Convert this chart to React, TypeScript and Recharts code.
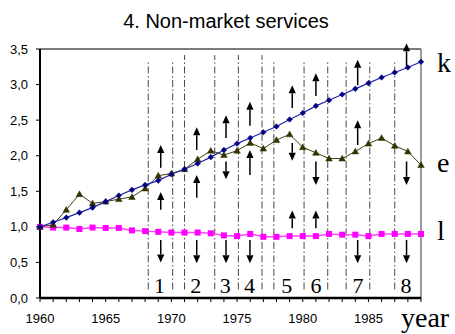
import React from "react"
import {
  LineChart,
  Line,
  XAxis,
  YAxis,
  ReferenceLine,
  ReferenceDot,
  LabelList,
} from "recharts"

const years = [
  1960, 1961, 1962, 1963, 1964, 1965, 1966, 1967, 1968, 1969,
  1970, 1971, 1972, 1973, 1974, 1975, 1976, 1977, 1978, 1979,
  1980, 1981, 1982, 1983, 1984, 1985, 1986, 1987, 1988, 1989,
]

const kValues = [
  1.0, 1.065, 1.13, 1.2, 1.27, 1.355, 1.44, 1.52, 1.59, 1.65,
  1.74, 1.81, 1.89, 1.98, 2.08, 2.17, 2.25, 2.33, 2.41, 2.51,
  2.6, 2.7, 2.78, 2.86, 2.94, 3.02, 3.1, 3.17, 3.24, 3.32,
]

const eValues = [
  1.0, 1.03, 1.24, 1.46, 1.33, 1.355, 1.39, 1.42, 1.54, 1.72,
  1.75, 1.81, 1.95, 2.07, 2.01, 2.07, 2.18, 2.1, 2.22, 2.3,
  2.12, 2.04, 1.96, 1.96, 2.06, 2.17, 2.25, 2.14, 2.06, 1.87,
]

const lValues = [
  1.0, 0.99, 0.99, 0.97, 0.99, 0.985, 0.985, 0.95, 0.94, 0.93,
  0.92, 0.92, 0.92, 0.91, 0.88, 0.87, 0.9, 0.86, 0.86, 0.87,
  0.87, 0.87, 0.9, 0.89, 0.89, 0.87, 0.9, 0.9, 0.9, 0.9,
]

const yTicks = [0, 0.5, 1, 1.5, 2, 2.5, 3, 3.5]

// dash-dot period boundaries (year) and how high each one reaches
const boundaryYears = [
  1968.24, 1970.1, 1971.0, 1973.3, 1975.1, 1976.9,
  1977.8, 1980.1, 1981.9, 1983.3, 1985.1, 1987.0,
]
const boundaryTops = [
  3.345, 3.345, 3.415, 3.415, 3.415, 3.415,
  3.345, 3.345, 3.345, 3.345, 3.345, 3.345,
]
const boundaryBottom = 0.12

const periodNames = ["1", "2", "3", "4", "5", "6", "7", "8"]
const periodYears = [1969.1, 1971.85, 1974.1, 1975.95, 1978.78, 1981.0, 1984.2, 1987.85]

// [year, from, to] — up arrows when to > from
const arrows: [number, number, number][] = [
  [1969.19, 1.83, 2.15], [1969.19, 1.24, 1.49], [1969.19, 0.815, 0.5],
  [1971.93, 2.08, 2.4], [1971.93, 1.41, 1.73], [1971.93, 0.815, 0.49],
  [1974.16, 2.25, 2.57], [1974.16, 1.92, 1.67], [1974.16, 0.815, 0.49],
  [1975.98, 2.42, 2.76], [1975.98, 1.73, 2.08], [1975.98, 0.815, 0.49],
  [1979.2, 2.67, 2.99], [1979.2, 2.18, 1.93], [1979.2, 0.98, 1.23],
  [1981.0, 2.84, 3.16], [1981.0, 1.92, 1.59], [1981.0, 0.98, 1.23],
  [1984.18, 2.99, 3.35], [1984.18, 2.15, 2.5], [1984.18, 0.815, 0.49],
  [1987.9, 3.26, 3.58], [1987.9, 1.92, 1.59], [1987.9, 0.815, 0.49],
]

const rows = years.map((year, i) => ({
  year,
  k: kValues[i],
  e: eValues[i],
  l: lValues[i],
}))

const sans = "'Liberation Sans', Arial, sans-serif"
const serif = "'Liberation Serif', 'Times New Roman', serif"

const Diamond = (props: any) => {
  const { cx, cy } = props
  if (cx == null || cy == null) return null
  const r = 2.8
  return (
    <polygon
      points={`${cx},${cy - r} ${cx + r},${cy} ${cx},${cy + r} ${cx - r},${cy}`}
      fill="#000080"
      stroke="#000080"
      strokeWidth={0.5}
    />
  )
}

const Triangle = (props: any) => {
  const { cx, cy } = props
  if (cx == null || cy == null) return null
  return (
    <polygon
      points={`${cx},${cy - 3.3} ${cx + 3.3},${cy + 2.5} ${cx - 3.3},${cy + 2.5}`}
      fill="#333300"
      stroke="#333300"
      strokeWidth={0.5}
    />
  )
}

const Square = (props: any) => {
  const { cx, cy } = props
  if (cx == null || cy == null) return null
  return <rect x={cx - 3} y={cy - 3} width={6} height={6} fill="#ff00ff" />
}

const Arrow = (props: any) => {
  const { x1, y1, x2, y2 } = props
  if (x1 == null || y1 == null) return null
  const dir = y2 < y1 ? -1 : 1
  const base = y2 - dir * 8
  return (
    <g>
      <line x1={x1} y1={y1} x2={x2} y2={base} stroke="#000" strokeWidth={1.5} />
      <polygon points={`${x2},${y2} ${x2 - 3.6},${base} ${x2 + 3.6},${base}`} fill="#000" />
    </g>
  )
}

const endLabel = (name: string, shift: number) => (props: any) => {
  const { x, y, index } = props
  if (index !== years.length - 1) return null
  return (
    <text x={x + 16} y={y + shift} fontFamily={serif} fontSize={28} fill="#000">
      {name}
    </text>
  )
}

const PeriodNumber = (name: string) => (props: any) => {
  const { cx, cy } = props
  return (
    <text x={cx} y={cy} textAnchor="middle" fontFamily={serif} fontSize={22} fill="#000">
      {name}
    </text>
  )
}

export default function App() {
  return (
    <div style={{ position: "absolute", left: 0, top: 0, background: "#fff" }}>
      <LineChart
        width={455}
        height={334}
        data={rows}
        margin={{ top: 49, right: 34, bottom: 0, left: 0 }}
      >
        <text x={226} y={28} textAnchor="middle" fontFamily={sans} fontSize={20} fill="#000">
          4. Non-market services
        </text>
        <text x={401} y={327} fontFamily={serif} fontSize={28} fill="#000">
          year
        </text>

        <XAxis
          dataKey="year"
          type="number"
          domain={[1960, 1989]}
          ticks={years}
          interval={0}
          height={36}
          axisLine={{ stroke: "#000", strokeWidth: 2.5 }}
          tickLine={{ stroke: "#000" }}
          tickSize={4}
          tickMargin={12}
          tickFormatter={(v: number) => (v % 5 === 0 ? String(v) : "")}
          tick={{ fill: "#000", fontSize: 13, fontFamily: sans }}
        />
        <YAxis
          type="number"
          domain={[0, 3.5]}
          ticks={yTicks}
          width={40}
          axisLine={{ stroke: "#000", strokeWidth: 2 }}
          tickLine={{ stroke: "#000" }}
          tickSize={4}
          tickMargin={8}
          tickFormatter={(v: number) => v.toFixed(1).replace(".", ",")}
          tick={{ fill: "#000", fontSize: 13, fontFamily: sans }}
        />

        {/* plot frame: top and right edges */}
        <ReferenceLine y={3.5} stroke="#7a7a7a" strokeWidth={2} />
        <ReferenceLine x={1989} stroke="#7a7a7a" strokeWidth={1.5} />

        {boundaryYears.map((yr, i) => (
          <ReferenceLine
            key={`b${i}`}
            segment={[
              { x: yr, y: boundaryBottom },
              { x: yr, y: boundaryTops[i] },
            ]}
            stroke="#333"
            strokeWidth={0.9}
            strokeDasharray="7 2.5 1.5 2.5"
          />
        ))}

        <Line
          dataKey="l"
          stroke="#ff44ff"
          strokeWidth={1.5}
          dot={<Square />}
          isAnimationActive={false}
        >
          <LabelList dataKey="l" content={endLabel("l", 6)} />
        </Line>
        <Line
          dataKey="e"
          stroke="#3f3f12"
          strokeWidth={1}
          dot={<Triangle />}
          isAnimationActive={false}
        >
          <LabelList dataKey="e" content={endLabel("e", 7)} />
        </Line>
        <Line
          dataKey="k"
          stroke="#2323a8"
          strokeWidth={1.2}
          dot={<Diamond />}
          isAnimationActive={false}
        >
          <LabelList dataKey="k" content={endLabel("k", 10)} />
        </Line>

        {arrows.map(([yr, from, to], i) => (
          <ReferenceLine
            key={`a${i}`}
            segment={[
              { x: yr, y: from },
              { x: yr, y: to },
            ]}
            ifOverflow="visible"
            shape={<Arrow />}
          />
        ))}

        {periodYears.map((yr, i) => (
          <ReferenceDot
            key={`p${i}`}
            x={yr}
            y={0.07}
            r={0}
            shape={PeriodNumber(periodNames[i])}
          />
        ))}
      </LineChart>
    </div>
  )
}
